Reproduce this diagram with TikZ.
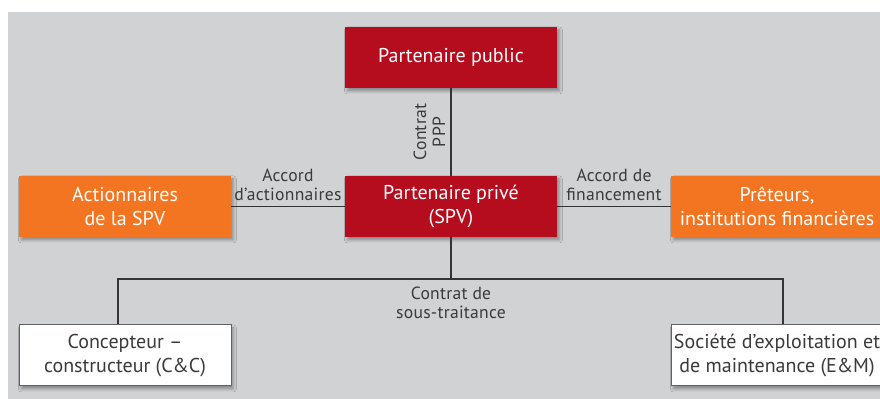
\documentclass[tikz,border=0pt]{standalone}
\usepackage{fontspec}
\setmainfont{PT Sans}
\newfontfamily\linkfont[LetterSpace=1.5]{PT Sans}
\usetikzlibrary{shadows.blur}

\definecolor{pppred}{HTML}{B50D1E}
\definecolor{ppporange}{HTML}{F47521}
\definecolor{pppgray}{HTML}{D1D2D4}
\definecolor{ppptext}{HTML}{3A3A3C}

\begin{document}
\begin{tikzpicture}[x=0.5pt, y=-0.5pt]
      \tikzset{party/.style={rectangle, minimum width=106pt, minimum height=30.5pt, inner sep=1pt, align=center,
                 font=\fontsize{10}{11.8}\selectfont,
                 blur shadow={shadow xshift=1.2pt, shadow yshift=-1.5pt, shadow blur radius=1.5pt, shadow opacity=35}},
               redbox/.style={party, fill=pppred, text=white},
               orangebox/.style={party, fill=ppporange, text=white},
               whitebox/.style={party, fill=white, draw=ppptext!80, line width=0.5pt, text=ppptext},
               link/.style={draw=ppptext!90!black, line width=0.8pt},
               linktext/.style={text=ppptext, align=center, inner sep=2.5pt, font=\linkfont\fontsize{8.8}{9.6}\selectfont}}

      % gray panel
      \useasboundingbox (0,0) rectangle (880,399);
      \fill[pppgray] (8,12) rectangle (880,399);

      \node[redbox] (public) at (451,57.5) {Partenaire public};
      \node[redbox] (spv) at (451,206.5) {Partenaire privé\\(SPV)};
      \node[orangebox] (actionnaires) at (125,206.5) {Actionnaires\\de la SPV};
      \node[orangebox] (preteurs) at (777,206.5) {Prêteurs,\\institutions financières};
      \node[whitebox] (cc) at (125,355.5) {Concepteur –\\constructeur (C\&C)};
      \node[whitebox] (em) at (777,355.5) {Société d’exploitation et\\de maintenance (E\&M)};
      \coordinate (split) at (451,279);

      \draw[link] (public) -- (spv) node[midway, rotate=90, above, linktext] {Contrat\\PPP};
      \draw[link] (actionnaires) -- (spv) node[midway, above, linktext] {Accord\\d’actionnaires};
      \draw[link] (spv) -- (preteurs) node[midway, above, linktext] {Accord de\\financement};
      \draw[link] (spv) -- (split) node[below, linktext, yshift=-1pt] {Contrat de\\sous-traitance};
      \draw[link] (split) -| ([xshift=-3.5pt]cc.north);
      \draw[link] (split) -| ([xshift=3pt]em.north);
\end{tikzpicture}
\end{document}
